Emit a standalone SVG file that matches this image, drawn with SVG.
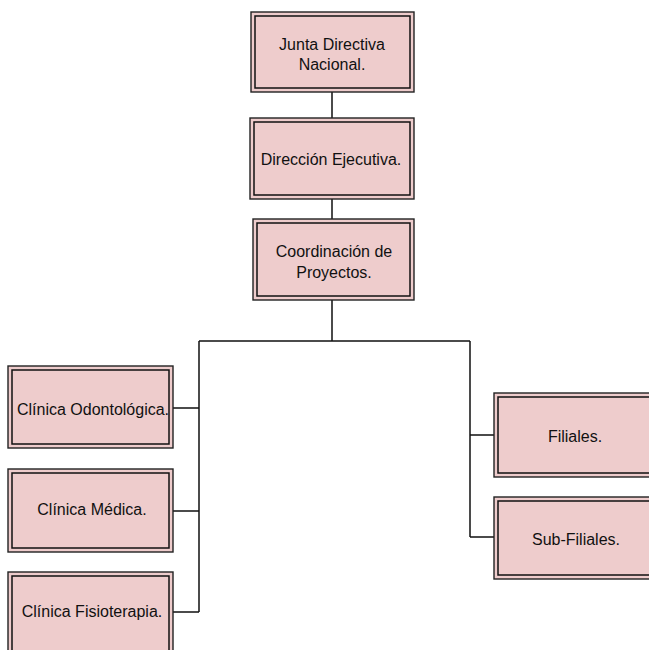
<svg xmlns="http://www.w3.org/2000/svg" width="649" height="650" viewBox="0 0 649 650">
<style>
.o{fill:#EECCCC;stroke:#222;stroke-width:1.4}
.i{fill:none;stroke:#111;stroke-width:1.5}
.t{font-family:"Liberation Sans",Arial,sans-serif;font-size:16px;fill:#111;text-anchor:middle}
.c{fill:none;stroke:#111;stroke-width:1.5}
</style>
<rect width="649" height="650" fill="#fff"/>
<g id="connectors">
<path class="c" d="M332 92V118M332 199V219M332 300V341M199 341H470M199 341V612M173 408H199M173 511H199M173 612H199M470 341V537M470 435H494M470 537H494"/>
</g>
<g id="n1"><rect class="o" x="251" y="12" width="163" height="80"/><rect class="i" x="255" y="16" width="155" height="72"/><text class="t" x="332" y="50">Junta Directiva</text><text class="t" x="332" y="70">Nacional.</text></g>
<g id="n2"><rect class="o" x="250" y="118" width="164" height="81"/><rect class="i" x="254" y="122" width="156" height="73"/><text class="t" x="331" y="165">Dirección Ejecutiva.</text></g>
<g id="n3"><rect class="o" x="253" y="219" width="161" height="81"/><rect class="i" x="257" y="223" width="153" height="73"/><text class="t" x="334" y="257">Coordinación de</text><text class="t" x="334" y="278">Proyectos.</text></g>
<g id="n4"><rect class="o" x="8" y="366" width="165" height="82"/><rect class="i" x="12" y="370" width="157" height="74"/><text class="t" x="93" y="415">Clínica Odontológica.</text></g>
<g id="n5"><rect class="o" x="8" y="469" width="165" height="83"/><rect class="i" x="12" y="473" width="157" height="75"/><text class="t" x="92" y="515">Clínica Médica.</text></g>
<g id="n6"><rect class="o" x="8" y="572" width="165" height="83"/><rect class="i" x="12" y="576" width="157" height="75"/><text class="t" x="92" y="617">Clínica Fisioterapia.</text></g>
<g id="n7"><rect class="o" x="494" y="393" width="164" height="84"/><rect class="i" x="498" y="397" width="156" height="76"/><text class="t" x="575" y="442">Filiales.</text></g>
<g id="n8"><rect class="o" x="494" y="497" width="164" height="82"/><rect class="i" x="498" y="501" width="156" height="74"/><text class="t" x="576" y="545">Sub-Filiales.</text></g>
</svg>
